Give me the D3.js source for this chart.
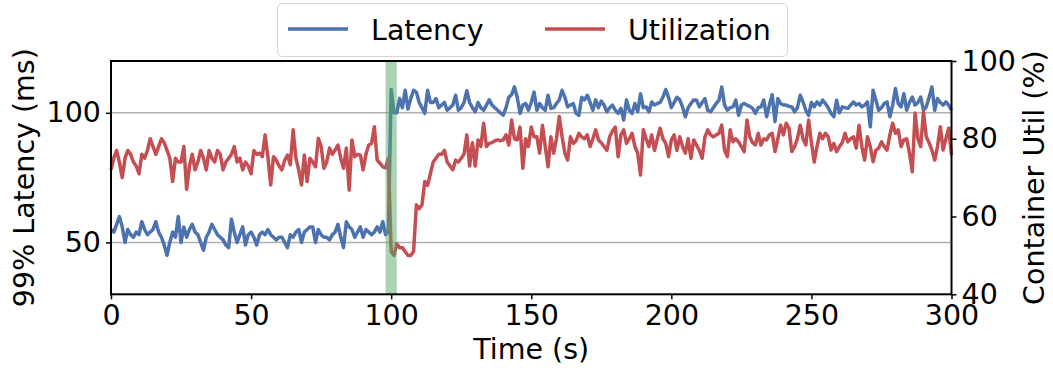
<!DOCTYPE html>
<html>
<head>
<meta charset="utf-8">
<script src="https://cdn.jsdelivr.net/npm/d3@7"></script>
<style>
  body { margin: 0; background: #fff; }
  svg text { font-family: "DejaVu Sans", sans-serif; fill: #000; }
</style>
</head>
<body>
<svg id="chart" width="1053" height="368"></svg>
<script>
// Chart data: one sample per second, t = 0..300
const latency = [
  55,54,57,60,56,50,55,53,52,54,
  53,58,55,53,54,55,58,54,52,49,
  45,50,54,52,60,50,56,52,55,57,
  54,53,50,47,52,54,57,55,53,52,
  51,49,48,59,54,50,53,56,49,53,
  54,52,49,53,54,53,55,53,52,51,
  52,52,50,48,53,52,54,55,50,54,
  55,56,56,50,55,53,52,52,51,53,
  54,57,52,48,58,56,55,52,54,56,
  52,55,54,53,54,56,54,58,53,54,
  109,100,100,105.5,102,108.7,101.5,105.5,108.7,108,
  104,102,99.8,108.7,104,104,105.5,102,103,104,
  101,102,103,106.8,101,102,104,108.5,104,102,
  100.4,104,102,101,103,105,103,102,101,100,
  99.1,102,106,107,110,106,99.8,103,103.6,101,
  104,108,101,103.6,102,101,106.8,101.7,102,103.6,
  105,108.7,106,102.3,103,103.6,99.8,99,106,105,
  106.8,104,101,105,102,104.5,103,100.4,102,103,
  101,99.8,101.7,97.2,105,101,99.8,103.6,100.4,107.4,
  102,102.3,100.4,104.2,103,103.6,104,106.1,109,106,
  102,104,106,105,102.3,98.5,102,103.6,105,104.9,
  102.3,104,105.5,101,100.4,102,103.6,104.9,110,103,
  101,102,102.3,104.9,99.1,103,103.6,103,102.5,101.7,
  99.8,102,102.3,104.9,98.5,103,107,96.6,105.5,103.6,
  103,103,102.5,102.3,100.4,102,106.8,104.2,101,99,
  104,102.3,104.2,103,104.9,103.6,102,99.8,98.5,104.9,
  100,102.3,102,101.7,103,104.2,103,103.6,102.3,103,
  104.2,94.6,108.7,104.9,101,102,103.6,104.2,98.5,103,
  109.4,103.6,102.3,107.4,101,104,106.1,103,104,106.1,
  101,102.3,106,110,101,105.5,104,103,104.2,103,
  101
];

const utilization = [
  72,75,77,74,70,75,77,76,74,73,
  71,76,75,77,80,78,76,78,80,79,
  77,75,69,75,74,74,78,67,73,76,
  72,74,77,75,72,77,75,74,77,76,
  72,74,75,76,78,74,75,72,74,73,
  71,77,76,76.3,75.4,81,75.4,68.1,75.4,74.5,
  73,72,74.5,75.8,73.3,82.3,75,72,68.1,75.8,
  69,75,74,72.8,80.1,78,72.4,74,77.6,76,
  77.1,78.4,75,72.4,77.6,66.8,79.7,75.4,76,75.8,
  72,76,78.4,78.8,83.1,74.5,73.7,72.8,72.5,75,
  51,50,53,52,52,51,50,50,51,63,
  62,63,69,68,71,74,75,76,76,77,
  74,73,72,74.5,74,75,76,81,73,79,
  73,79.7,78,84,78,78.8,79,79.5,79.7,79.5,
  79.7,81,78.4,84.8,80,79.7,83,72.4,80,78,
  83,80.5,80.5,76.3,83.5,78,72.8,80.5,76.3,80,
  85.7,80.5,76.3,74.5,80.5,78.8,79.5,81.4,80.5,80,
  81,78,80,82.3,79.7,79,78,77,80.5,82,
  83,75.4,81,82.3,78.8,80,81.4,78,76.3,70.7,
  82.3,80,78,81,77,80,82.7,80,78.8,75.4,
  79.7,81,77,80.5,78,76.3,80,75,79.7,78.4,
  77,75,80.5,82.3,81,80.5,81,81.4,83.5,77,
  75.4,82.3,79.2,80,79.2,78,76.7,84.8,80.5,79,
  78.4,81.4,78.4,80,79.7,81,81.4,76.7,80,83.5,
  81,84,82.7,76.7,78,80,83.5,80,78.4,84.8,
  79,74,78,81.4,80,81.4,80.5,77.1,78.8,76.7,
  78,79,81.4,79.2,80,80.5,77.6,83.5,78,74.5,
  80.5,78,74.1,77,77.6,79.2,78,77.1,81,84,
  81.4,82.3,78,79.7,80,76.3,71.5,86.6,80,78,
  86.9,80.5,79,77.1,74.5,78,83.1,77.1,80,82.7,
  75.8
];

const xTicks = [0, 50, 100, 150, 200, 250, 300];
const latencyTicks = [50, 100];
const utilTicks = [40, 60, 80, 100];
const migrationSpan = [98, 102];
const seriesNames = ["Latency", "Utilization"];

const svg = d3.select("#chart");
const W = 1053, H = 368;
const margin = { left: 111, right: W - 951.5, top: 61, bottom: H - 294.3 };
const fontSize = 28.5;

const x = d3.scaleLinear().domain([0, 300]).range([margin.left, W - margin.right]);
const yLeft = d3.scaleLinear().domain([30, 120]).range([H - margin.bottom, margin.top]);
const yRight = d3.scaleLinear().domain([40, 100]).range([H - margin.bottom, margin.top]);

const blue = "#4c72b0";
const red = "#c44e52";

// Gridlines for the left axis
svg.append("g")
  .selectAll("line")
  .data(latencyTicks)
  .enter()
  .append("line")
  .attr("x1", x(0))
  .attr("x2", x(300))
  .attr("y1", d => yLeft(d))
  .attr("y2", d => yLeft(d))
  .attr("stroke", "#b0b0b0")
  .attr("stroke-width", 1.5);

// Lines
const lineLat = d3.line().x((d, i) => x(i)).y(d => yLeft(d));
const lineUtil = d3.line().x((d, i) => x(i)).y(d => yRight(d));

svg.append("path")
  .datum(latency)
  .attr("d", lineLat)
  .attr("fill", "none")
  .attr("stroke", blue)
  .attr("stroke-width", 3.5)
  .attr("stroke-linejoin", "round");

svg.append("path")
  .datum(utilization)
  .attr("d", lineUtil)
  .attr("fill", "none")
  .attr("stroke", red)
  .attr("stroke-width", 3.5)
  .attr("stroke-linejoin", "round");

// Green highlighted span
svg.append("rect")
  .attr("x", x(migrationSpan[0]))
  .attr("width", x(migrationSpan[1]) - x(migrationSpan[0]))
  .attr("y", margin.top)
  .attr("height", H - margin.bottom - margin.top)
  .attr("fill", "#55a868")
  .attr("opacity", 0.5);

// Axes
const xAxis = svg.append("g")
  .attr("transform", `translate(0,${H - margin.bottom})`)
  .call(d3.axisBottom(x).tickValues(xTicks).tickSize(5).tickPadding(5));
const leftAxis = svg.append("g")
  .attr("transform", `translate(${margin.left},0)`)
  .call(d3.axisLeft(yLeft).tickValues(latencyTicks).tickSize(5).tickPadding(5));
const rightAxis = svg.append("g")
  .attr("transform", `translate(${W - margin.right},0)`)
  .call(d3.axisRight(yRight).tickValues(utilTicks).tickSize(5).tickPadding(5));

[xAxis, leftAxis, rightAxis].forEach(g => {
  g.select(".domain").remove();
  g.selectAll(".tick line").attr("stroke", "#000").attr("stroke-width", 1.5);
  g.selectAll(".tick text")
    .attr("font-size", fontSize)
    .attr("font-family", "DejaVu Sans");
});

// Frame
svg.append("rect")
  .attr("x", x(0))
  .attr("y", margin.top)
  .attr("width", x(300) - x(0))
  .attr("height", H - margin.bottom - margin.top)
  .attr("fill", "none")
  .attr("stroke", "#000")
  .attr("stroke-width", 2);

// Axis titles
svg.append("text")
  .attr("x", (x(0) + x(300)) / 2)
  .attr("y", 359)
  .attr("text-anchor", "middle")
  .attr("font-size", fontSize)
  .text("Time (s)");

const midY = (margin.top + H - margin.bottom) / 2;
svg.append("text")
  .attr("transform", `translate(34,${midY}) rotate(-90)`)
  .attr("text-anchor", "middle")
  .attr("font-size", fontSize)
  .text("99% Latency (ms)");

svg.append("text")
  .attr("transform", `translate(1044,${midY}) rotate(-90)`)
  .attr("text-anchor", "middle")
  .attr("font-size", fontSize)
  .text("Container Util (%)");

// Legend
const legend = svg.append("g");
legend.append("rect")
  .attr("x", 277.5)
  .attr("y", 3.5)
  .attr("width", 510)
  .attr("height", 53)
  .attr("rx", 5)
  .attr("fill", "#fff")
  .attr("fill-opacity", 0.8)
  .attr("stroke", "#d5d5d5")
  .attr("stroke-width", 1);

const legendItems = [
  { name: seriesNames[0], color: blue, x: 288 },
  { name: seriesNames[1], color: red, x: 545 }
];
legendItems.forEach(item => {
  legend.append("line")
    .attr("x1", item.x)
    .attr("x2", item.x + 60)
    .attr("y1", 29)
    .attr("y2", 29)
    .attr("stroke", item.color)
    .attr("stroke-width", 3.5);
  legend.append("text")
    .attr("x", item.x + 83)
    .attr("y", 40)
    .attr("font-size", fontSize)
    .text(item.name);
});
</script>
</body>
</html>
